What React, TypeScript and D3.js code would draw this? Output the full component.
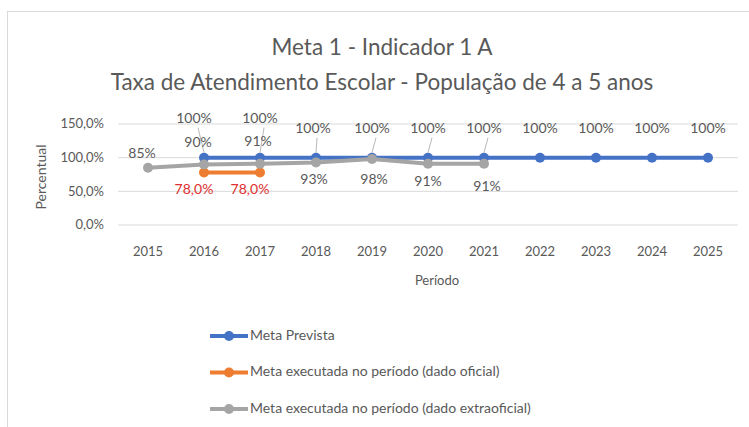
import React, { useEffect, useRef } from "react";
import * as d3 from "d3";

const years = ["2015", "2016", "2017", "2018", "2019", "2020", "2021", "2022", "2023", "2024", "2025"];
const metaPrevista = [null, 100, 100, 100, 100, 100, 100, 100, 100, 100, 100];
const metaOficial = [null, 78, 78, null, null, null, null, null, null, null, null];
const metaExtraoficial = [85, 90, 91, 93, 98, 91, 91, null, null, null, null];
const yTicks = [0, 50, 100, 150];

// label placement (dx, dy from the point), by year index
const previstaLabelDy = [0, -38, -38, -28, -28, -28, -28, -28, -28, -28, -28];
const previstaLabelDx = [0, -10, 0, -3, 0, 0, 0, 0, 0, 0, 0];
const extraLabelPos: [number, number][] = [
  [-6, -13], [-6, -21], [-2, -21], [-2, 18], [2, 21], [0, 19], [3, 24],
];

const FONT = "Lato, 'Open Sans', sans-serif";
const TEXT = "#595959";

const App = () => {
  const svgRef = useRef<SVGSVGElement>(null);

  useEffect(() => {
    const svg = d3.select(svgRef.current);
    svg.selectAll("*").remove();

    const x = d3.scaleBand<string>().domain(years).range([120, 736]);
    const y = d3.scaleLinear().domain([0, 150]).range([225, 124]);
    const cx = (i: number) => (x(years[i]) as number) + x.bandwidth() / 2;

    // chart border
    svg
      .append("rect")
      .attr("x", 7.5)
      .attr("y", 11.5)
      .attr("width", 760)
      .attr("height", 440)
      .attr("fill", "#fff")
      .attr("stroke", "#d9d9d9");

    // titles
    svg
      .append("text")
      .attr("x", 382)
      .attr("y", 49)
      .attr("text-anchor", "middle")
      .attr("dominant-baseline", "middle")
      .attr("font-size", 22.5)
      .attr("fill", TEXT)
      .text("Meta 1 - Indicador 1 A");
    svg
      .append("text")
      .attr("x", 382)
      .attr("y", 84)
      .attr("text-anchor", "middle")
      .attr("dominant-baseline", "middle")
      .attr("font-size", 22.5)
      .attr("fill", TEXT)
      .text("Taxa de Atendimento Escolar - População de 4 a 5 anos");

    // grid + y labels
    const grid = svg.append("g");
    grid
      .selectAll("line")
      .data(yTicks)
      .join("line")
      .attr("x1", 118)
      .attr("x2", 738)
      .attr("y1", (d) => y(d))
      .attr("y2", (d) => y(d))
      .attr("stroke", "#d9d9d9");
    grid
      .selectAll("text")
      .data(yTicks)
      .join("text")
      .attr("x", 104)
      .attr("y", (d) => y(d) + 1)
      .attr("text-anchor", "end")
      .attr("dominant-baseline", "middle")
      .attr("font-size", 13)
      .attr("fill", TEXT)
      .text((d) => d3.format(".1f")(d).replace(".", ",") + "%");

    // x labels
    svg
      .append("g")
      .selectAll("text")
      .data(years)
      .join("text")
      .attr("x", (d) => (x(d) as number) + x.bandwidth() / 2)
      .attr("y", 253)
      .attr("text-anchor", "middle")
      .attr("dominant-baseline", "middle")
      .attr("font-size", 13)
      .attr("fill", TEXT)
      .text((d) => d);

    // axis titles
    svg
      .append("text")
      .attr("x", 437)
      .attr("y", 282)
      .attr("text-anchor", "middle")
      .attr("dominant-baseline", "middle")
      .attr("font-size", 13)
      .attr("fill", TEXT)
      .text("Período");
    svg
      .append("text")
      .attr("transform", "translate(42,177) rotate(-90)")
      .attr("text-anchor", "middle")
      .attr("dominant-baseline", "middle")
      .attr("font-size", 14)
      .attr("fill", TEXT)
      .text("Percentual");

    const drawSeries = (values: (number | null)[], color: string) => {
      const pts = values
        .map((v, i) => ({ i, v }))
        .filter((d) => d.v !== null) as { i: number; v: number }[];
      const line = d3
        .line<{ i: number; v: number }>()
        .x((d) => cx(d.i))
        .y((d) => y(d.v));
      svg
        .append("path")
        .datum(pts)
        .attr("fill", "none")
        .attr("stroke", color)
        .attr("stroke-width", 4)
        .attr("stroke-linejoin", "round")
        .attr("d", line);
      svg
        .append("g")
        .selectAll("circle")
        .data(pts)
        .join("circle")
        .attr("cx", (d) => cx(d.i))
        .attr("cy", (d) => y(d.v))
        .attr("r", 5)
        .attr("fill", color);
      return pts;
    };

    const blue = drawSeries(metaPrevista, "#4472c4");
    const orange = drawSeries(metaOficial, "#ed7d31");
    const gray = drawSeries(metaExtraoficial, "#a5a5a5");

    // leader lines for displaced labels (where extraoficial data exists)
    svg
      .append("g")
      .selectAll("line")
      .data(blue.filter((d) => metaExtraoficial[d.i] !== null))
      .join("line")
      .attr("x1", (d) => cx(d.i) + previstaLabelDx[d.i] + 4)
      .attr("y1", (d) => y(d.v) + previstaLabelDy[d.i] + 8)
      .attr("x2", (d) => cx(d.i))
      .attr("y2", (d) => y(d.v) - 5)
      .attr("stroke", "#a6a6a6")
      .attr("stroke-width", 0.8);

    const labels = svg
      .append("g")
      .attr("font-size", 14)
      .attr("text-anchor", "middle")
      .attr("dominant-baseline", "middle");
    labels
      .selectAll("text.prev")
      .data(blue)
      .join("text")
      .attr("class", "prev")
      .attr("x", (d) => cx(d.i) + previstaLabelDx[d.i])
      .attr("y", (d) => y(d.v) + previstaLabelDy[d.i])
      .attr("fill", TEXT)
      .text((d) => d.v + "%");
    labels
      .selectAll("text.ofi")
      .data(orange)
      .join("text")
      .attr("class", "ofi")
      .attr("x", (d) => cx(d.i) - 10)
      .attr("y", (d) => y(d.v) + 18)
      .attr("fill", "#e0302f")
      .text((d) => d3.format(".1f")(d.v).replace(".", ",") + "%");
    labels
      .selectAll("text.extra")
      .data(gray)
      .join("text")
      .attr("class", "extra")
      .attr("x", (d) => cx(d.i) + extraLabelPos[d.i][0])
      .attr("y", (d) => y(d.v) + extraLabelPos[d.i][1])
      .attr("fill", TEXT)
      .text((d) => d.v + "%");

    // legend
    const legendItems = [
      { name: "Meta Prevista", color: "#4472c4" },
      { name: "Meta executada no período (dado oficial)", color: "#ed7d31" },
      { name: "Meta executada no período (dado extraoficial)", color: "#a5a5a5" },
    ];
    const lg = svg
      .append("g")
      .selectAll("g")
      .data(legendItems)
      .join("g")
      .attr("transform", (_, i) => `translate(210, ${336 + i * 36.5})`);
    lg.append("line")
      .attr("x1", 0)
      .attr("x2", 38)
      .attr("stroke", (d) => d.color)
      .attr("stroke-width", 4);
    lg.append("circle").attr("cx", 19).attr("r", 5).attr("fill", (d) => d.color);
    lg.append("text")
      .attr("x", 40)
      .attr("dominant-baseline", "middle")
      .attr("font-size", 14)
      .attr("fill", TEXT)
      .text((d) => d.name);
  }, []);

  return (
    <svg
      ref={svgRef}
      width={749}
      height={427}
      style={{ position: "absolute", left: 0, top: 0, fontFamily: FONT }}
    ></svg>
  );
};

export default App;
